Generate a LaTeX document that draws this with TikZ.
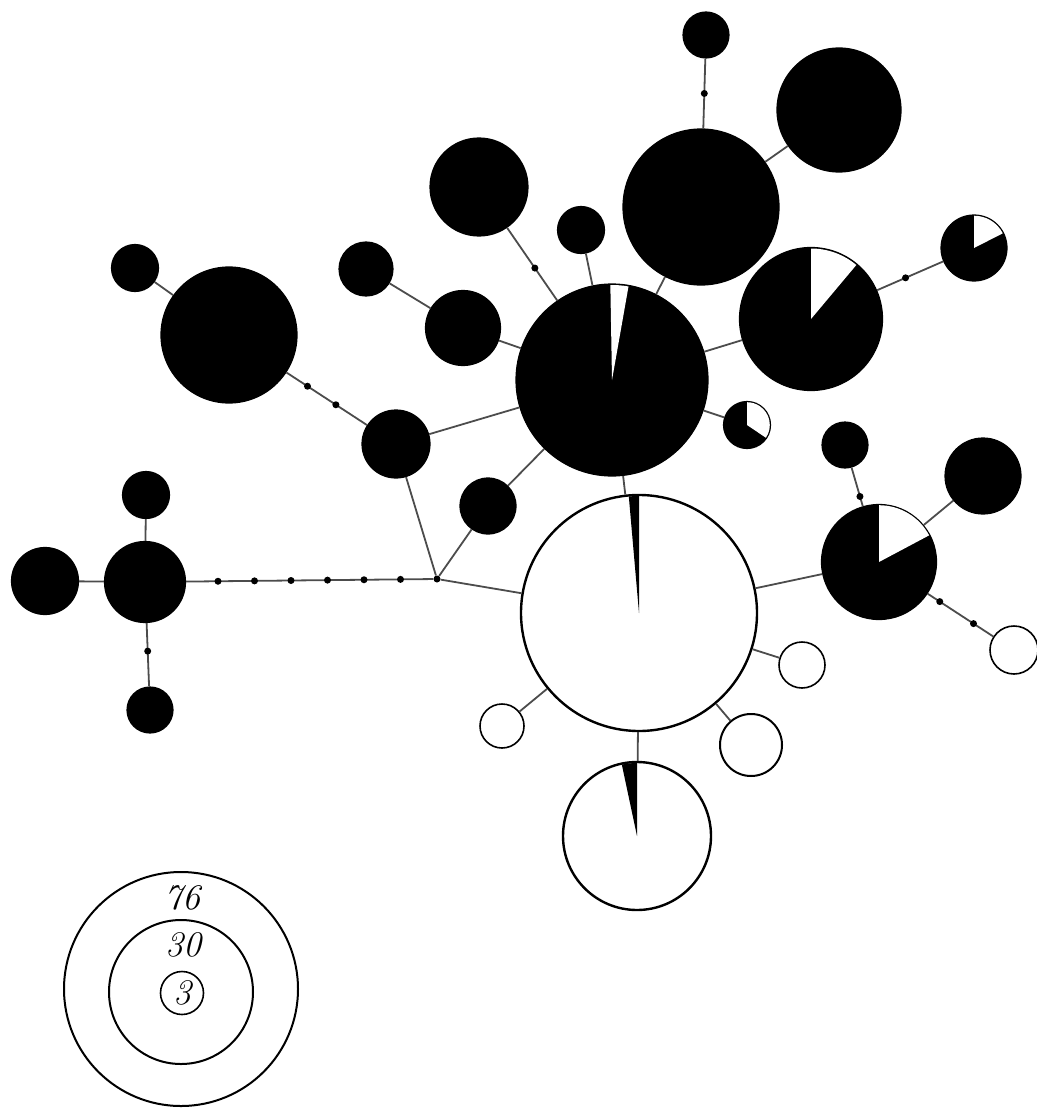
\documentclass[tikz,border=0pt]{standalone}
\usepackage{xcolor}
\usepackage{tikz}
\usetikzlibrary{calc}

% pie slice on a haplotype node: node, colour, start, end, radius
\newcommand{\hapslice}[5]{\fill[#2] (#1.center) -- ++(#3:#5) arc[start angle=#3, end angle=#4, radius=#5] -- cycle;}

\begin{document}
\begin{tikzpicture}[
  x=1pt, y=1pt,
  hap/.style={circle, draw=black, fill=black, line width=1.2pt, inner sep=0pt, minimum size=#1},
  hapw/.style={hap=#1, fill=white, line width=2.4pt},
  mut/.style={circle, fill=black, inner sep=0pt, minimum size=7pt},
  link/.style={line width=1.8pt, black!70},
  ring/.style={circle, draw, line width=2pt, inner sep=0pt, minimum size=#1},
  num/.style={font=\fontsize{36}{36}\selectfont\itshape, inner sep=0pt}
]
\useasboundingbox (0,0) rectangle (1036,-1110);

% haplotypes (top group)
\node[hap=46pt]  (A) at (706,-35) {};
\node[hap=124pt] (B) at (839,-110) {};
\node[hap=156pt] (C) at (701,-207) {};
\node[hap=98pt]  (D) at (479,-187) {};
\node[hap=47pt]  (E) at (581,-230) {};
\node[hap=192pt] (F) at (612,-380) {};
\node[hap=143pt] (G) at (811,-319) {};
\node[hap=66pt]  (H) at (974,-248) {};
\node[hap=47pt]  (I) at (747,-425) {};
\node[hap=136pt] (J) at (229,-335) {};
\node[hap=47pt]  (K) at (135,-268) {};
\node[hap=54pt]  (L) at (366,-269) {};
\node[hap=75pt]  (M) at (463,-328) {};
\node[hap=68pt]  (N) at (396,-444) {};
\node[hap=56pt]  (O) at (488,-506) {};
\node[mut]       (P) at (437,-579) {};

% haplotypes (bottom group)
\node[hapw=236pt] (Q) at (639,-613) {};
\node[hapw=148pt] (R) at (637,-836) {};
\node[hap=115pt]  (S) at (879,-562) {};
\node[hap=46pt]   (T) at (845,-445) {};
\node[hap=76pt]   (U) at (983,-476) {};
\node[hapw=48pt, line width=1.6pt] (V) at (1014,-650) {};
\node[hapw=46pt, line width=1.6pt] (W) at (802,-665) {};
\node[hapw=62pt, line width=2pt]   (X) at (751,-745) {};
\node[hapw=44pt, line width=1.6pt] (Y) at (502,-726) {};

% left cluster
\node[hap=81pt] (Z)  at (145,-582) {};
\node[hap=47pt] (Z1) at (146,-495) {};
\node[hap=67pt] (Z2) at (45,-581) {};
\node[hap=46pt] (Z3) at (150,-710) {};

% links
\draw[link] (A) -- (C) (B) -- (C) (C) -- (F) (D) -- (F) (E) -- (F)
  (L) -- (M) (M) -- (F) (K) -- (J) (J) -- (N) (N) -- (F) (N) -- (P)
  (O) -- (F) (O) -- (P) (P) -- (Q) (Z) -- (P) (Z) -- (Z1) (Z) -- (Z2)
  (Z) -- (Z3) (F) -- (G) (F) -- (I) (G) -- (H) (F) -- (Q) (Q) -- (S)
  (S) -- (T) (S) -- (U) (S) -- (V) (Q) -- (W) (Q) -- (X) (Q) -- (Y)
  (Q) -- (R);

% mutation steps
\foreach \a/\b/\f [count=\i] in {A/C/0.34, D/F/0.42, J/N/0.47, J/N/0.64, G/H/0.58,
    Z/Z3/0.54, S/T/0.56, S/V/0.45, S/V/0.70}
  \node[mut] (m\i) at ($(\a.center)!\f!(\b.center)$) {};
\foreach \k in {2,...,7}
  \node[mut] (z\k) at ($(Z.center)!\k/8!(P.center)$) {};

% pie slices
\hapslice{F}{white}{80}{91}{95pt}
\hapslice{G}{white}{50}{90}{70.5pt}
\hapslice{H}{white}{27}{90}{32.3pt}
\hapslice{I}{white}{-34}{90}{22.8pt}
\hapslice{S}{white}{28}{90}{56.8pt}
\hapslice{Q}{black}{90}{95}{117pt}
\hapslice{R}{black}{90}{102}{73pt}

% size legend
\node[ring=234pt] (leg76) at (181,-989) {};
\node[ring=144pt] (leg30) at (181,-992) {};
\node[ring=43pt, line width=1.6pt] (leg3) at (182,-993) {};
\node[num] (t76) at (182,-898) {76};
\node[num] (t30) at (183,-945) {30};
\node[num] (t3) at (leg3) {3};
\end{tikzpicture}
\end{document}
